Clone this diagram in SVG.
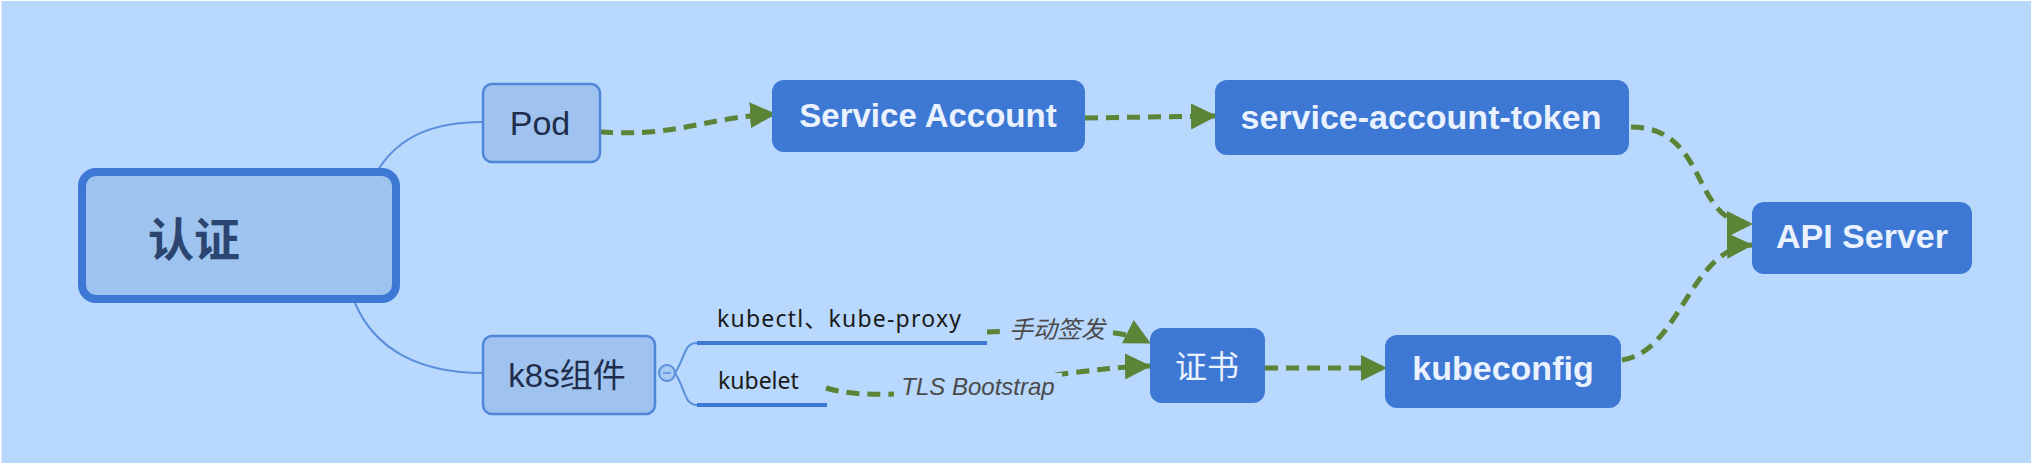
<svg xmlns="http://www.w3.org/2000/svg" width="2042" height="472" viewBox="0 0 2042 472">
  <defs>
    <marker id="arrow" markerUnits="userSpaceOnUse" markerWidth="28" markerHeight="28" refX="25" refY="13" orient="auto">
      <path d="M0,0 L26,13 L0,26 z" fill="#5b8436"/>
    </marker>
    <style>
      .bg { fill: #b8d8fd; }
      .light { fill: #9fc3ee; stroke: #4f86da; stroke-width: 2.5; }
      .root { fill: #9ec3ee; stroke: #3d78d4; stroke-width: 8; }
      .dark { fill: #3d78d4; }
      .lbl-dark { font-family: "Liberation Sans", "Noto Sans CJK SC", sans-serif; font-weight: bold; font-size: 34px; fill: #eaf2ff; text-anchor: middle; }
      .lbl-light { font-family: "Liberation Sans", "Noto Sans CJK SC", sans-serif; font-size: 34px; fill: #1f2d4d; text-anchor: middle; }
      .small { font-family: "Noto Sans", "Noto Sans CJK SC", sans-serif; font-size: 23px; fill: #1a1a1a; }
      .italic { font-family: "Liberation Sans", "Noto Sans CJK SC", sans-serif; font-style: italic; font-size: 24px; fill: #4a4a4a; text-anchor: middle; }
      .branch { fill: none; stroke: #5a8fdc; stroke-width: 2; }
      .uline { fill: none; stroke: #3d78d4; stroke-width: 4; }
      .flow { fill: none; stroke: #5b8436; stroke-width: 5; stroke-dasharray: 13 8; }
    </style>
  </defs>

  <rect class="bg" x="1.5" y="1" width="2029.5" height="462"/>

  <g id="connectors">
    <path class="branch" d="M378,170 C 400,135 435,122 483,122"/>
    <path class="branch" d="M355,303 C 375,350 420,373 483,373"/>
    <path class="branch" d="M675,373 C 686,356 684,343 697,343"/>
    <path class="branch" d="M675,373 C 686,390 684,405 697,405"/>
    <path class="uline" d="M697,343 H987"/>
    <path class="uline" d="M697,405 H827"/>

    <path class="flow" d="M600,132 C 680,137 700,118 775,114" marker-end="url(#arrow)"/>
    <path class="flow" d="M1085,118 L1216,116" marker-end="url(#arrow)"/>
    <path class="flow" d="M1631,127 C 1710,127 1690,224 1752,224" marker-end="url(#arrow)"/>
    <path class="flow" d="M987,332 C 1040,330 1115,325 1150,343" marker-end="url(#arrow)"/>
    <path class="flow" d="M826,388 C 900,410 1050,368 1150,366" marker-end="url(#arrow)"/>
    <path class="flow" d="M1265,368 L1386,368" marker-end="url(#arrow)"/>
    <path class="flow" d="M1622,360 C 1680,352 1690,247 1752,245" marker-end="url(#arrow)"/>

    <rect class="bg" x="1004" y="314" width="107" height="30"/>
    <text class="italic" x="1057" y="338">手动签发</text>
    <rect class="bg" x="894" y="373" width="168" height="28"/>
    <text class="italic" x="978" y="395">TLS Bootstrap</text>
  </g>

  <g id="node-auth">
    <rect class="root" x="82" y="172" width="314" height="127" rx="14"/>
    <text x="148" y="256" style="font-family: 'Noto Sans CJK SC', sans-serif; font-weight: bold; font-size: 46px; fill: #2b4570;">认证</text>
  </g>

  <g id="node-pod">
    <rect class="light" x="483" y="84" width="117" height="78" rx="9"/>
    <text class="lbl-light" x="540" y="135">Pod</text>
  </g>

  <g id="node-k8s">
    <rect class="light" x="483" y="336" width="172" height="78" rx="9"/>
    <text class="lbl-light" x="567" y="387" style="font-size:33px">k8s组件</text>
    <circle cx="667" cy="373" r="8" fill="#a8cbf3" stroke="#5a8fdc" stroke-width="2"/>
    <line x1="663" y1="373" x2="671" y2="373" stroke="#5a8fdc" stroke-width="1.5"/>
  </g>

  <g id="node-kubectl">
    <text class="small" x="717" y="327" textLength="244" lengthAdjust="spacing">kubectl、kube-proxy</text>
  </g>

  <g id="node-kubelet">
    <text class="small" x="718" y="389">kubelet</text>
  </g>

  <g id="node-sa">
    <rect class="dark" x="772" y="80" width="313" height="72" rx="12"/>
    <text class="lbl-dark" x="928" y="127" style="font-size:33px">Service Account</text>
  </g>

  <g id="node-token">
    <rect class="dark" x="1215" y="80" width="414" height="75" rx="12"/>
    <text class="lbl-dark" x="1421" y="129">service-account-token</text>
  </g>

  <g id="node-api">
    <rect class="dark" x="1752" y="202" width="220" height="72" rx="12"/>
    <text class="lbl-dark" x="1862" y="248">API Server</text>
  </g>

  <g id="node-cert">
    <rect class="dark" x="1150" y="328" width="115" height="75" rx="12"/>
    <text class="lbl-dark" x="1207" y="378" style="font-family: 'Noto Sans CJK SC', sans-serif; font-weight: normal; font-size: 32px;">证书</text>
  </g>

  <g id="node-kubeconfig">
    <rect class="dark" x="1385" y="335" width="236" height="73" rx="12"/>
    <text class="lbl-dark" x="1503" y="380">kubeconfig</text>
  </g>
</svg>
